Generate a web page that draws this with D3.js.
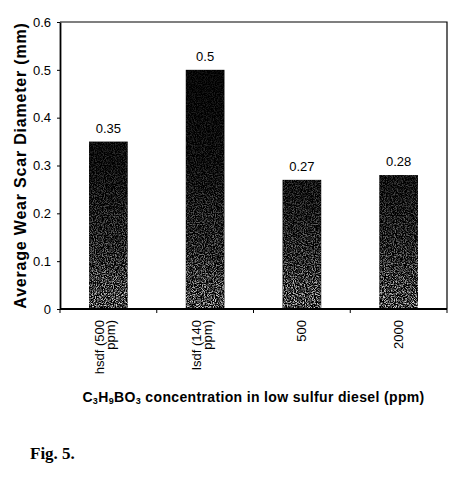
<!DOCTYPE html>
<html>
<head>
<meta charset="utf-8">
<script src="https://cdn.jsdelivr.net/npm/d3@7"></script>
<style>
  body { margin: 0; background: #fff; }
  text { font-family: Arial, "Liberation Sans", sans-serif; fill: #000; }
</style>
</head>
<body>
<svg id="chart" width="467" height="486"></svg>
<script>
// data
const categories = [["hsdf (500", "ppm)"], ["lsdf (140", "ppm)"], ["500"], ["2000"]];
const values = [0.35, 0.5, 0.27, 0.28];
const yTicks = [0, 0.1, 0.2, 0.3, 0.4, 0.5, 0.6];

const margin = { left: 60, top: 22, right: 20, bottom: 177 };
const width = 467, height = 486;

const svg = d3.select('#chart');

// grainy "photocopy" look of the bars
const defs = svg.append('defs');
const fade = defs.append('linearGradient')
  .attr('id', 'fade').attr('gradientUnits', 'userSpaceOnUse')
  .attr('x1', 0).attr('y1', margin.top).attr('x2', 0).attr('y2', height - margin.bottom);
fade.append('stop').attr('offset', 0).attr('stop-color', '#fff').attr('stop-opacity', 0.04);
fade.append('stop').attr('offset', 0.5).attr('stop-color', '#fff').attr('stop-opacity', 0.18);
fade.append('stop').attr('offset', 0.8).attr('stop-color', '#fff').attr('stop-opacity', 0.45);
fade.append('stop').attr('offset', 1).attr('stop-color', '#fff').attr('stop-opacity', 0.85);

const grain = defs.append('filter').attr('id', 'grain')
  .attr('x', 0).attr('y', 0).attr('width', 1).attr('height', 1);
grain.append('feTurbulence').attr('type', 'fractalNoise')
  .attr('baseFrequency', 0.9).attr('numOctaves', 2).attr('seed', 4).attr('result', 'n');
grain.append('feColorMatrix').attr('in', 'n').attr('type', 'matrix')
  .attr('values', '0 0 0 0 1  0 0 0 0 1  0 0 0 0 1  3.5 0 0 0 -1.45').attr('result', 'spk');
grain.append('feComposite').attr('in', 'spk').attr('in2', 'SourceGraphic').attr('operator', 'in');

const x = d3.scaleBand()
  .domain(d3.range(categories.length))
  .range([margin.left, width - margin.right])
  .paddingInner(0.6)
  .paddingOuter(0.3);

const y = d3.scaleLinear()
  .domain([0, 0.6])
  .range([height - margin.bottom, margin.top]);

const x0 = margin.left, x1 = width - margin.right;
const yb = y(0), yt = y(0.6);

// frame (top + right)
svg.append('path')
  .attr('d', `M${x0},${yt}H${x1}V${yb}`)
  .attr('fill', 'none').attr('stroke', '#000').attr('stroke-width', 1.2);

// bars
const bars = svg.append('g');
bars.selectAll('rect.base')
  .data(values)
  .enter().append('rect')
  .attr('class', 'base')
  .attr('x', (d, i) => x(i))
  .attr('y', d => y(d))
  .attr('width', x.bandwidth())
  .attr('height', d => yb - y(d))
  .attr('fill', '#000');

bars.selectAll('rect.grain')
  .data(values)
  .enter().append('rect')
  .attr('class', 'grain')
  .attr('x', (d, i) => x(i))
  .attr('y', d => y(d))
  .attr('width', x.bandwidth())
  .attr('height', d => yb - y(d))
  .attr('fill', 'url(#fade)')
  .attr('filter', 'url(#grain)');

// value labels
svg.selectAll('text.val')
  .data(values)
  .enter().append('text')
  .attr('class', 'val')
  .attr('x', (d, i) => x(i) + x.bandwidth() / 2)
  .attr('y', d => y(d) - 9)
  .attr('text-anchor', 'middle')
  .attr('font-size', 13)
  .text(d => d);

// y axis
const yAxis = svg.append('g')
  .attr('transform', `translate(${x0},0)`)
  .call(d3.axisLeft(y)
    .tickValues(yTicks)
    .tickSizeInner(3)
    .tickSizeOuter(0)
    .tickPadding(6)
    .tickFormat(d => d === 0 ? '0' : d3.format('.1f')(d)));
yAxis.select('.domain').attr('stroke-width', 1.8);
yAxis.selectAll('text').attr('font-size', 13).attr('font-family', 'Arial, "Liberation Sans", sans-serif');

// x axis line and ticks at band boundaries
svg.append('line')
  .attr('x1', x0).attr('x2', x1).attr('y1', yb).attr('y2', yb)
  .attr('stroke', '#000').attr('stroke-width', 1.8);
svg.selectAll('line.xt')
  .data(d3.range(categories.length + 1))
  .enter().append('line')
  .attr('class', 'xt')
  .attr('x1', i => x0 + i * x.step()).attr('x2', i => x0 + i * x.step())
  .attr('y1', yb).attr('y2', yb + 4)
  .attr('stroke', '#000').attr('stroke-width', 1);

// rotated category labels
const lineGap = 11;
categories.forEach((lines, i) => {
  const cx = x(i) + x.bandwidth() / 2;
  const g = svg.append('g')
    .attr('transform', `translate(${cx},${yb + 11}) rotate(-90)`);
  const off = lines.length === 1 ? 4.5 : -4;
  lines.forEach((t, j) => {
    g.append('text')
      .attr('x', 0)
      .attr('y', off + j * lineGap)
      .attr('text-anchor', 'end')
      .attr('font-size', 13)
      .text(t);
  });
});

// x axis title with subscripts
const xt = svg.append('text')
  .attr('x', (x0 + x1) / 2)
  .attr('y', 402)
  .attr('text-anchor', 'middle')
  .attr('font-size', 14)
  .attr('font-weight', 'bold')
  .attr('letter-spacing', 0.35);
[['C', false], ['3', true], ['H', false], ['9', true], ['BO', false], ['3', true],
 [' concentration in low sulfur diesel (ppm)', false]].forEach(([t, sub]) => {
  xt.append('tspan')
    .attr('font-size', sub ? 9 : 14)
    .attr('baseline-shift', sub ? '-25%' : null)
    .text(t);
});

// y axis title
svg.append('text')
  .attr('transform', `translate(26,${(yt + yb) / 2}) rotate(-90)`)
  .attr('text-anchor', 'middle')
  .attr('font-size', 16)
  .attr('font-weight', 'bold')
  .attr('letter-spacing', 0.8)
  .text('Average Wear Scar Diameter (mm)');

// figure caption
svg.append('text')
  .attr('x', 30)
  .attr('y', 459)
  .style('font-family', '"Liberation Serif", "DejaVu Serif", serif')
  .attr('font-size', 17)
  .attr('font-weight', 'bold')
  .text('Fig. 5.');
</script>
</body>
</html>
